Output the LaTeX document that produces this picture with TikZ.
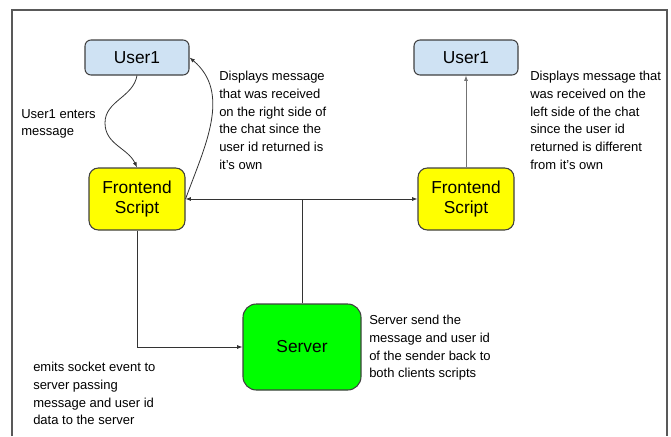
\documentclass[tikz,border=0pt]{standalone}
\usepackage{fontspec}
\setmainfont{Liberation Sans}
\usepackage{xcolor}
\usepackage{tikz}
\usetikzlibrary{arrows.meta}
\definecolor{bleu}{HTML}{CFE2F3}
\definecolor{jaune}{HTML}{FFFF00}
\definecolor{vert}{HTML}{00FF00}
\tikzset{
    bloc/.style = {draw=black!75, line width=0.8pt, align=center, inner sep=0pt, font=\fontsize{13}{15.3}\selectfont},
    c1/.style = {fill=bleu, rounded corners=4.5pt, minimum width=78pt, minimum height=26.25pt},
    c2/.style = {fill=jaune, rounded corners=7pt, minimum width=72pt, minimum height=46.5pt},
    c3/.style = {fill=vert, rounded corners=10pt, minimum width=88.5pt, minimum height=64.5pt},
    note/.style = {anchor=north west, align=left, inner sep=0pt, font=\fontsize{9.75}{13.3}\selectfont},
    fleche/.style = {->, draw=black!80, line width=0.6pt},
    >={Latex[length=4pt, width=3pt]}
}

\begin{document}
\begin{tikzpicture}[x=0.75pt, y=0.75pt]
                \useasboundingbox (0,0) rectangle (671,-436);
                \draw[black!65, line width=1pt] (12,-436) -- (12,-10) -- (667,-10) -- (667,-436);

                \node[bloc, c1] (U1) at (137,-57.5) {User1};
                \node[bloc, c1] (U2) at (466,-57.5) {User1};
                \node[bloc, c2] (F1) at (137,-199) {Frontend\\Script};
                \node[bloc, c2] (F2) at (466,-199) {Frontend\\Script};
                \node[bloc, c3] (S) at (302,-347) {Server};

                \draw[fleche] (U1.south) to[out=-100, in=90] (105,-123) to[out=-90, in=115] (F1.north);
                \draw[fleche] (F1.east) to[out=70, in=-40] (U1.east);
                \draw[fleche] (S.north) |- (F1.east);
                \draw[fleche] (S.north) |- (F2.west);
                \draw[fleche] (F1.south) |- (S.west);
                \draw[fleche, draw=black!55] (F2.north) -- (U2.south);

                \node[note] (N1) at (21,-109) {User1 enters\\message};
                \node[note] (N2) at (219,-71) {Displays message\\that was received\\on the right side of\\the chat since the\\user id returned is\\it’s own};
                \node[note] (N3) at (530,-71) {Displays message that\\was received on the\\left side of the chat\\since the user id\\returned is different\\from it’s own};
                \node[note] (N4) at (369,-315) {Server send the\\message and user id\\of the sender back to\\both clients scripts};
                \node[note] (N5) at (33,-362) {emits socket event to\\server passing\\message and user id\\data to the server};
            \end{tikzpicture}
\end{document}
